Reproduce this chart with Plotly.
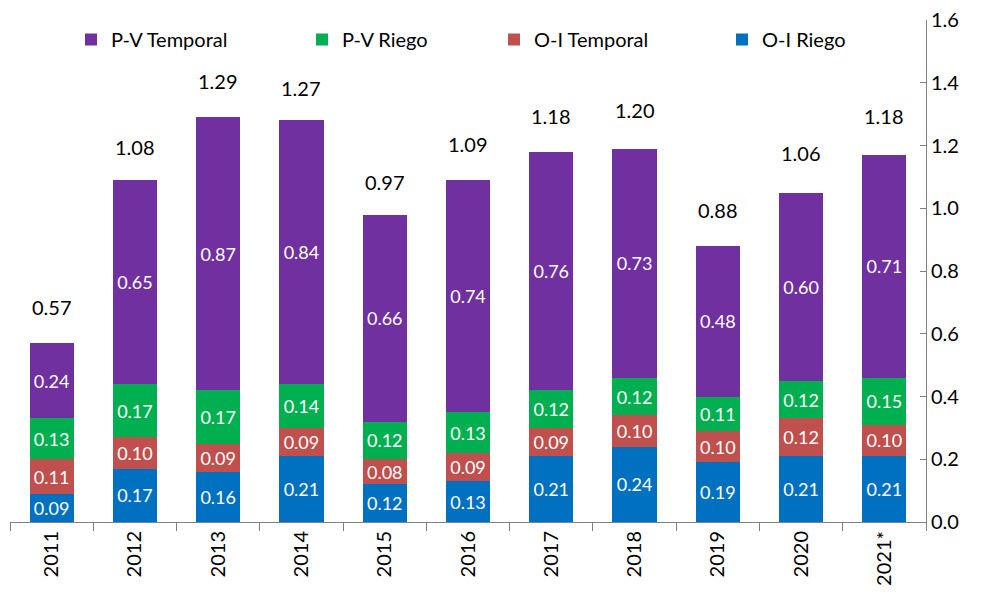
import plotly.graph_objects as go

years = ["2011", "2012", "2013", "2014", "2015", "2016", "2017", "2018", "2019", "2020", "2021*"]
oi_riego = [0.09, 0.17, 0.16, 0.21, 0.12, 0.13, 0.21, 0.24, 0.19, 0.21, 0.21]
oi_temporal = [0.11, 0.10, 0.09, 0.09, 0.08, 0.09, 0.09, 0.10, 0.10, 0.12, 0.10]
pv_riego = [0.13, 0.17, 0.17, 0.14, 0.12, 0.13, 0.12, 0.12, 0.11, 0.12, 0.15]
pv_temporal = [0.24, 0.65, 0.87, 0.84, 0.66, 0.74, 0.76, 0.73, 0.48, 0.60, 0.71]
totals = [0.57, 1.08, 1.29, 1.27, 0.97, 1.09, 1.18, 1.20, 0.88, 1.06, 1.18]
y_ticks = [0.0, 0.2, 0.4, 0.6, 0.8, 1.0, 1.2, 1.4, 1.6]

FONT = "Lato, sans-serif"

series = [
    ("O-I Riego", oi_riego, "#0070C0", "legend4"),
    ("O-I Temporal", oi_temporal, "#C0504D", "legend3"),
    ("P-V Riego", pv_riego, "#00B050", "legend2"),
    ("P-V Temporal", pv_temporal, "#7030A0", "legend"),
]

fig = go.Figure()
for name, vals, col, leg in series:
    fig.add_trace(go.Bar(
        x=years, y=vals, name=name, legend=leg, showlegend=True,
        marker=dict(color=col, line=dict(width=0)),
        text=[f"{v:.2f}" for v in vals],
        textposition="inside", insidetextanchor="middle",
        constraintext="none",
        textfont=dict(color="white", size=18, family=FONT),
        textangle=0,
    ))

for i, t in enumerate(totals):
    fig.add_annotation(x=i, y=t, text=f"{t:.2f}", showarrow=False,
                       yanchor="bottom", yshift=22,
                       font=dict(size=20, color="black", family=FONT))

def leg(xpos):
    return dict(orientation="h", x=xpos, xanchor="left", y=1.0, yanchor="top",
                itemwidth=30, font=dict(size=20, family=FONT),
                bgcolor="rgba(0,0,0,0)")

fig.update_layout(
    showlegend=True,
    barmode="stack",
    bargap=0.47,
    width=974, height=586,
    margin=dict(l=2, r=56, t=12, b=72),
    plot_bgcolor="white", paper_bgcolor="white",
    font=dict(family=FONT, size=20, color="black"),
    legend=leg(0.0666),
    legend2=leg(0.3188),
    legend3=leg(0.5284),
    legend4=leg(0.7773),
    xaxis=dict(type="category", categoryorder="array", categoryarray=years,
               range=[-0.5, len(years) - 0.5], automargin=False,
               showline=True, linecolor="#808080", linewidth=1,
               ticks="outside", tickson="boundaries", ticklen=8, tickcolor="#808080",
               tickangle=-90, tickfont=dict(size=20, family=FONT)),
    yaxis=dict(side="right", range=[0, 1.6],
               tickmode="array", tickvals=y_ticks,
               ticktext=[f"{v:.1f}" for v in y_ticks],
               ticklabeloverflow="allow",
               automargin=False,
               showgrid=False, showline=True, linecolor="#808080", linewidth=1,
               ticks="inside", ticklen=6, tickcolor="#808080",
               tickfont=dict(size=20, family=FONT), zeroline=False),
)

fig.write_html("out.html")
